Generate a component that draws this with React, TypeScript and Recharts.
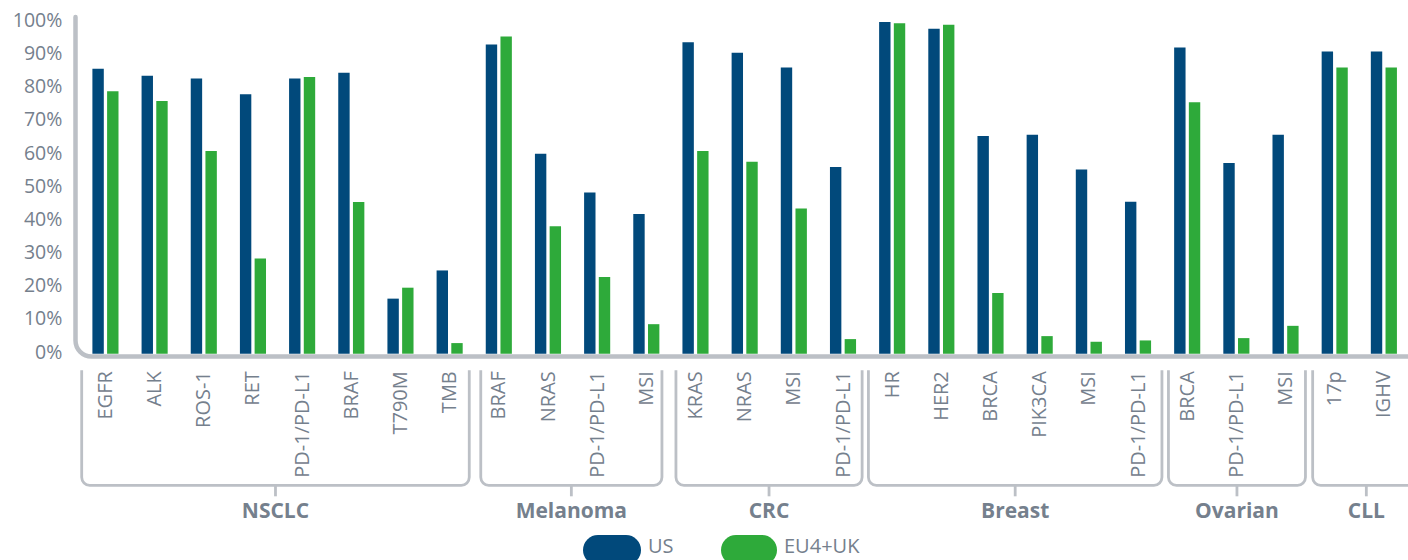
import { BarChart, Bar, XAxis, YAxis, Customized } from 'recharts'

const groupNames = ['NSCLC', 'Melanoma', 'CRC', 'Breast', 'Ovarian', 'CLL']
const groupSizes = [8, 4, 4, 6, 3, 2]
// bracket inset from band edges [left, right], px
const groupInsets = [[1.3, 4.5], [7, 8.5], [5.5, 5], [1.3, 0.2], [6.3, 4.2], [3, -12]]

const markers = [
  'EGFR', 'ALK', 'ROS-1', 'RET', 'PD-1/PD-L1', 'BRAF', 'T790M', 'TMB',
  'BRAF', 'NRAS', 'PD-1/PD-L1', 'MSI',
  'KRAS', 'NRAS', 'MSI', 'PD-1/PD-L1',
  'HR', 'HER2', 'BRCA', 'PIK3CA', 'MSI', 'PD-1/PD-L1',
  'BRCA', 'PD-1/PD-L1', 'MSI',
  '17p', 'IGHV',
]
const usValues = [
  85.9, 83.8, 83.0, 78.2, 83.0, 84.7, 16.6, 25.1,
  93.2, 60.3, 48.6, 42.1,
  93.9, 90.7, 86.3, 56.3,
  100, 98.0, 65.6, 66.0, 55.5, 45.8,
  92.3, 57.5, 66.0,
  91.1, 91.1,
]
const euValues = [
  79.1, 76.2, 61.1, 28.7, 83.4, 45.7, 19.9, 3.2,
  95.6, 38.4, 23.1, 8.9,
  61.1, 57.9, 43.8, 4.4,
  99.6, 99.2, 18.3, 5.3, 3.6, 4.0,
  75.8, 4.7, 8.4,
  86.3, 86.3,
]
const yTicks = [0, 10, 20, 30, 40, 50, 60, 70, 80, 90, 100]

const US_COLOR = '#01497b'
const EU_COLOR = '#2eaa3a'
const TEXT = '#75808d'
const LINE = '#bcc0c6'
const FONT = '"Open Sans", sans-serif'

const W = 1408
const H = 560
const PLOT_LEFT = 80.4
const PLOT_TOP = 22
const PLOT_BOTTOM = 353.7
const BAND = (W - PLOT_LEFT) / markers.length

const data = markers.map((m, i) => ({ key: i, marker: m, us: usValues[i], eu: euValues[i] }))

// index of first category -> group index
const groupStarts: Record<number, number> = {}
let acc = 0
groupSizes.forEach((n, g) => { groupStarts[acc] = g; acc += n })

function XTick({ x, y, payload }: any) {
  const i = payload.value
  const g = groupStarts[i]
  let bracket = null
  if (g !== undefined) {
    const n = groupSizes[g]
    const [il, ir] = groupInsets[g]
    const L = x - BAND / 2 + il
    const R = x + (n - 1) * BAND + BAND / 2 - ir
    const yt = y + 14.5
    const yb = y + 129.6
    const r = 8
    const cx = (L + R) / 2
    bracket = (
      <g>
        <path
          d={`M${L},${yt} V${yb - r} A${r},${r} 0 0 0 ${L + r},${yb} H${R - r} A${r},${r} 0 0 0 ${R},${yb - r} V${yt}`}
          fill="none" stroke={LINE} strokeWidth={2.8}
        />
        <path d={`M${cx},${yb} V${yb + 11}`} stroke={LINE} strokeWidth={2.8} />
        <text x={cx} y={y + 155} dy="0.35em" textAnchor="middle" fill={TEXT}
          fontFamily={FONT} fontSize={21} fontWeight={700}>{groupNames[g]}</text>
      </g>
    )
  }
  return (
    <g>
      <text transform={`translate(${x},${y + 15.5}) rotate(-90)`} dy="0.35em" textAnchor="end"
        fill={TEXT} fontFamily={FONT} fontSize={20}>{markers[i]}</text>
      {bracket}
    </g>
  )
}

function YTick({ x, y, payload }: any) {
  return (
    <text x={x} y={y - 2} dy="0.35em" textAnchor="end" fill={TEXT} fontFamily={FONT} fontSize={19.5}>
      {payload.value}%
    </text>
  )
}

function AxisFrame() {
  const ax = 75.5
  const ay = 356.5
  const r = 16
  return (
    <path
      d={`M${ax},17 V${ay - r} A${r},${r} 0 0 0 ${ax + r},${ay} H${W + 5}`}
      fill="none" stroke={LINE} strokeWidth={4.5} strokeLinecap="round"
    />
  )
}

function LegendItem({ color, label, left, pillW }: { color: string; label: string; left: number; pillW: number }) {
  return (
    <>
      <div style={{ position: 'absolute', left, top: 535, width: pillW, height: 30, borderRadius: 15, background: color }} />
      <div style={{
        position: 'absolute', left: left + pillW + 7, top: 537, height: 18, lineHeight: '18px',
        fontFamily: FONT, fontSize: 20, color: TEXT, whiteSpace: 'nowrap',
      }}>{label}</div>
    </>
  )
}

export default function App() {
  return (
    <div style={{ position: 'absolute', left: 0, top: 0, width: W, height: H, overflow: 'hidden', background: '#fff' }}>
      <BarChart
        width={W}
        height={H}
        data={data}
        margin={{ top: PLOT_TOP, right: 0, bottom: 0, left: 0 }}
        barSize={11.4}
        barGap={3.3}
      >
        <XAxis
          dataKey="key"
          type="category"
          interval={0}
          height={H - PLOT_BOTTOM}
          axisLine={false}
          tickLine={false}
          tickSize={0}
          tick={<XTick />}
        />
        <YAxis
          width={PLOT_LEFT}
          domain={[0, 100]}
          ticks={yTicks}
          axisLine={false}
          tickLine={false}
          tickSize={0}
          tickMargin={18}
          tick={<YTick />}
        />
        <Bar dataKey="us" fill={US_COLOR} isAnimationActive={false} />
        <Bar dataKey="eu" fill={EU_COLOR} isAnimationActive={false} />
        <Customized component={<AxisFrame />} />
      </BarChart>
      <LegendItem color={US_COLOR} label="US" left={583} pillW={58} />
      <LegendItem color={EU_COLOR} label="EU4+UK" left={721} pillW={56} />
    </div>
  )
}
